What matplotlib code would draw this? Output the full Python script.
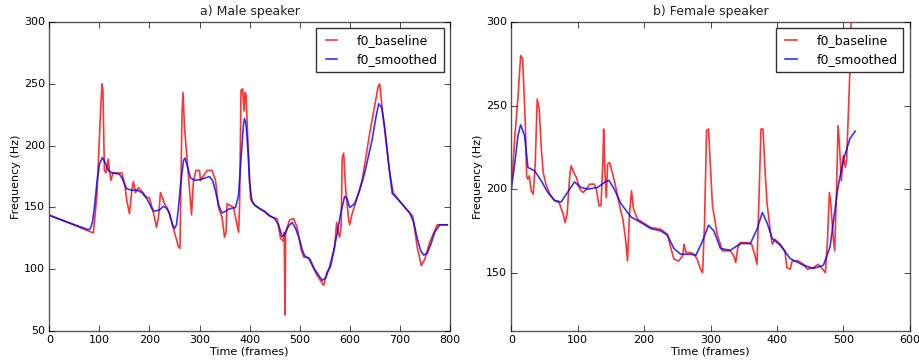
import matplotlib
matplotlib.use("Agg")
import matplotlib.pyplot as plt

# male speaker: raw f0 contour (frame, Hz)
male_base_t = [0, 78, 88, 95, 102, 105, 107, 110, 113, 116, 118, 120, 123, 127, 135, 145, 150, 155, 160,
               165, 168, 172, 178, 185, 195, 200, 205, 210, 214, 218, 222, 226, 230, 235, 240, 250, 258,
               261, 265, 267, 270, 275, 280, 284, 288, 293, 300, 302, 315, 325, 332, 338, 345, 350, 353,
               355, 360, 368, 378, 380, 383, 386, 389, 391, 393, 397, 402, 410, 425, 440, 455, 462, 467,
               469, 471, 472, 480, 488, 495, 503, 508, 518, 525, 535, 548, 555, 562, 570, 574, 577, 580,
               583, 585, 588, 592, 598, 600, 605, 615, 625, 640, 657, 660, 665, 680, 687, 700, 715, 726,
               735, 743, 750, 760, 775, 795]
male_base_f = [144, 131, 129.5, 160, 225, 250, 245, 180, 178, 185, 189, 180, 172, 178, 178, 178, 170, 155,
               145, 165, 171, 162, 166, 163, 158, 158, 150, 142, 134, 142, 162, 158, 153, 150, 145, 130,
               118, 117, 225, 243, 215, 190, 165, 144, 172, 180, 180, 172, 180, 180, 172, 150, 142, 126,
               130, 153, 152, 150, 130, 150, 245, 246, 228, 243, 241, 200, 157, 152, 148, 143, 141, 125,
               123, 130, 63, 130, 140, 141, 134, 116, 110, 109, 103, 95, 87, 98, 102, 118, 138, 130, 126,
               135, 190, 194, 165, 140, 136, 145, 158, 172, 210, 248, 250, 230, 178, 162, 155, 148, 143,
               118, 103, 108, 122, 136, 136]

# male speaker: smoothed contour
male_smooth_t = [0, 78, 82, 86, 90, 95, 100, 106, 112, 118, 125, 140, 145, 150, 155, 165, 175, 185, 195,
                 205, 210, 220, 228, 235, 240, 246, 250, 254, 258, 262, 268, 271, 276, 282, 290, 300, 312,
                 320, 326, 332, 338, 345, 352, 360, 372, 378, 383, 388, 390, 393, 397, 400, 405, 410, 420,
                 430, 440, 450, 458, 465, 470, 478, 485, 492, 500, 505, 510, 520, 530, 545, 552, 560, 568,
                 575, 582, 590, 595, 600, 610, 620, 630, 645, 652, 658, 664, 670, 678, 685, 700, 720, 728,
                 735, 742, 748, 755, 762, 770, 780, 795]
male_smooth_f = [143.5, 132, 133, 138, 150, 170, 185, 190.4, 186, 180, 178, 177, 174, 169, 165, 164, 164,
                 162, 157, 149, 147, 148, 151, 149, 145, 136, 133, 136, 150, 168, 188, 190, 183, 174, 172,
                 172.5, 174, 175, 172, 163, 152, 145.5, 147, 149, 150, 160, 190, 218, 222, 217, 195, 170,
                 155, 152, 149, 147, 143.5, 141, 136, 126.5, 128, 135, 138, 133, 124, 116, 111, 108.5, 100,
                 91, 93, 102, 115, 129, 145, 159, 157, 150, 153, 164, 178, 205, 222, 234, 231, 215, 185,
                 161.5, 155, 145.5, 138, 125, 115, 111.5, 113, 120, 130, 136, 136]

# female speaker: raw f0 contour
female_base_t = [0, 5, 10, 14, 17, 21, 23, 25, 27, 30, 33, 36, 39, 42, 45, 48, 52, 58, 65, 72, 78, 81, 84,
                 88, 90, 94, 98, 103, 108, 113, 118, 125, 128, 132, 135, 138, 139, 141, 143, 145, 148, 152,
                 158, 163, 168, 172, 175, 178, 181, 184, 190, 198, 210, 225, 235, 240, 245, 252, 258, 260,
                 263, 270, 275, 280, 285, 288, 291, 294, 297, 300, 303, 310, 318, 330, 335, 338, 341, 345,
                 355, 362, 367, 370, 373, 376, 379, 382, 385, 390, 393, 397, 405, 412, 415, 420, 423, 432,
                 440, 446, 455, 462, 469, 473, 476, 479, 481, 485, 487, 490, 492, 494, 497, 500, 503, 505,
                 508, 510, 513]
female_base_f = [200, 230, 255, 280, 278, 240, 208, 206, 208, 199, 197, 215, 254, 248, 225, 210, 203, 197,
                 193, 192, 185, 180, 185, 208, 214, 210, 207, 200, 198, 200, 203, 203, 200, 190, 190, 218,
                 236, 210, 195, 215, 216, 210, 200, 190, 182, 170, 157, 185, 199, 188, 182, 180, 177, 176,
                 173, 165, 158, 157, 160, 167, 162, 162, 161, 158, 152, 150, 180, 235, 236, 212, 190, 173,
                 163, 163, 160, 156, 165, 168, 168, 167, 160, 155, 195, 236, 236, 212, 192, 175, 167, 170,
                 167, 163, 153, 152, 157, 157, 155, 152, 153, 155, 152, 150, 168, 198, 192, 170, 163, 203,
                 238, 228, 205, 220, 213, 218, 250, 272, 320]

# female speaker: smoothed contour
female_smooth_t = [0, 5, 10, 14, 20, 25, 35, 45, 55, 65, 75, 85, 95, 105, 115, 130, 140, 147, 155, 165,
                   180, 195, 210, 225, 235, 245, 255, 270, 278, 287, 297, 305, 315, 330, 345, 360, 370,
                   378, 385, 393, 405, 420, 440, 455, 470, 480, 492, 500, 510, 518]
female_smooth_f = [200.5, 215, 232, 238.5, 232, 213, 211, 205, 198, 193.3, 192.3, 198.3, 204.3, 201, 200,
                   201, 204, 205.3, 200, 191.4, 183.4, 180, 176.4, 175, 172.4, 164.4, 161, 161, 160.4, 168,
                   178.4, 175, 164.4, 163.4, 167.4, 167.4, 176, 186, 180, 170.4, 166.4, 158.4, 154.4,
                   152.5, 154.4, 165.4, 201.3, 217.3, 230.3, 234.7]

plt.style.use("classic")
plt.rcParams["font.family"] = "DejaVu Sans"

fig = plt.figure(figsize=(9.19, 3.63), dpi=100, facecolor="white")
ax1 = fig.add_axes([0.0537, 0.088, 0.4357, 0.851])
ax2 = fig.add_axes([0.5564, 0.088, 0.4335, 0.851])

panels = [
    (ax1, male_base_t, male_base_f, male_smooth_t, male_smooth_f, "a) Male speaker", (0, 800), (50, 300)),
    (ax2, female_base_t, female_base_f, female_smooth_t, female_smooth_f, "b) Female speaker", (0, 600), (115, 300)),
]

for ax, bt, bf, st, sf, title, xlim, ylim in panels:
    ax.set_facecolor("white")
    ax.plot(bt, bf, color="r", alpha=0.8, linewidth=1.2, label="f0_baseline")
    ax.plot(st, sf, color="b", alpha=0.8, linewidth=1.2, label="f0_smoothed")
    ax.set_xlim(*xlim)
    ax.set_ylim(*ylim)
    ax.set_title(title, fontsize=9, color="#222222")
    ax.set_xlabel("Time (frames)", fontsize=8, labelpad=1)
    ax.set_ylabel("Frequency (Hz)", fontsize=8, labelpad=2)
    ax.tick_params(labelsize=8, pad=3)
    for sp in ax.spines.values():
        sp.set_color("#555555")
    leg = ax.legend(loc="upper right", fontsize=9, handlelength=1.5, handletextpad=1.3,
                    borderpad=0.45, labelspacing=0.5)
    leg.get_frame().set_edgecolor("#333333")

fig.savefig("out.png", dpi=100, facecolor="white")
